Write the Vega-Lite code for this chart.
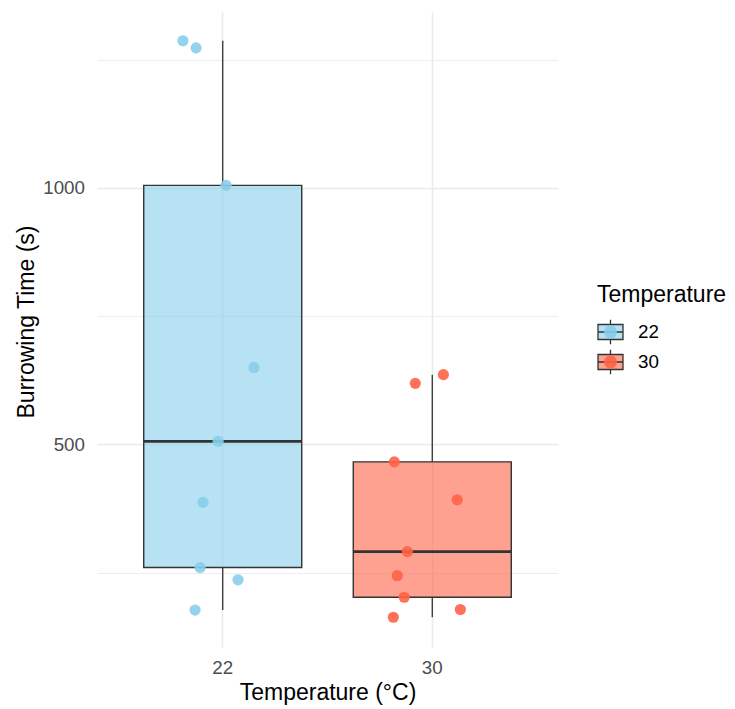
{
  "$schema": "https://vega.github.io/schema/vega-lite/v6.json",
  "autosize": {"type": "none"},
  "padding": {"left": 97, "top": 12, "right": 177, "bottom": 62},
  "width": 461,
  "height": 635,
  "background": "white",
  "config": {
    "view": {"stroke": null},
    "font": "Liberation Sans",
    "axis": {"labelFont": "Liberation Sans", "titleFont": "Liberation Sans"},
    "legend": {"labelFont": "Liberation Sans", "titleFont": "Liberation Sans"},
    "tick": {"thickness": 2.8, "opacity": 1}
  },
  "data": {
    "values": [
      {"Temperature": "22", "time": 1287, "jitter": -0.19},
      {"Temperature": "22", "time": 1273, "jitter": -0.127},
      {"Temperature": "22", "time": 1005, "jitter": 0.016},
      {"Temperature": "22", "time": 650, "jitter": 0.149},
      {"Temperature": "22", "time": 506, "jitter": -0.022},
      {"Temperature": "22", "time": 387, "jitter": -0.094},
      {"Temperature": "22", "time": 260, "jitter": -0.108},
      {"Temperature": "22", "time": 236, "jitter": 0.073},
      {"Temperature": "22", "time": 177, "jitter": -0.132},
      {"Temperature": "30", "time": 619, "jitter": -0.081},
      {"Temperature": "30", "time": 636, "jitter": 0.053},
      {"Temperature": "30", "time": 466, "jitter": -0.181},
      {"Temperature": "30", "time": 392, "jitter": 0.119},
      {"Temperature": "30", "time": 291, "jitter": -0.119},
      {"Temperature": "30", "time": 244, "jitter": -0.167},
      {"Temperature": "30", "time": 202, "jitter": -0.134},
      {"Temperature": "30", "time": 178, "jitter": 0.134},
      {"Temperature": "30", "time": 163, "jitter": -0.186}
    ]
  },
  "encoding": {
    "x": {
      "field": "Temperature",
      "type": "nominal",
      "scale": {"paddingInner": 0, "paddingOuter": 0.1},
      "axis": {
        "title": "Temperature (°C)",
        "labelAngle": 0,
        "labelFontSize": 18.8,
        "labelColor": "#4D4D4D",
        "labelPadding": 11,
        "titleFontSize": 23,
        "titleFontWeight": "normal",
        "titleColor": "#000000",
        "titlePadding": 4.5,
        "domain": false,
        "ticks": false,
        "grid": true,
        "bandPosition": 0.5,
        "gridColor": "#EBEBEB",
        "gridWidth": 1.6
      }
    },
    "y": {
      "field": "time",
      "type": "quantitative",
      "scale": {"domain": [105, 1343], "nice": false, "zero": false},
      "axis": {
        "title": "Burrowing Time (s)",
        "values": [250, 500, 750, 1000, 1250],
        "format": "d",
        "labelExpr": "datum.value % 500 === 0 ? datum.label : ''",
        "labelFontSize": 18.8,
        "labelColor": "#4D4D4D",
        "labelPadding": 12.5,
        "titleFontSize": 23,
        "titleFontWeight": "normal",
        "titleColor": "#000000",
        "titlePadding": 4,
        "titleY": 309.5,
        "domain": false,
        "ticks": false,
        "grid": true,
        "gridColor": "#EBEBEB",
        "gridWidth": {"condition": {"test": "datum.value % 500 === 0", "value": 1.6}, "value": 0.9}
      }
    }
  },
  "layer": [
    {
      "mark": {
        "type": "boxplot",
        "extent": 1.5,
        "size": 158,
        "outliers": false,
        "box": {"stroke": "#333333", "strokeWidth": 1.4, "fillOpacity": 0.6},
        "median": {"color": "#333333", "thickness": 2.8, "opacity": 1},
        "rule": {"color": "#333333", "strokeWidth": 1.3, "opacity": 1}
      },
      "encoding": {
        "color": {
          "field": "Temperature",
          "type": "nominal",
          "scale": {"domain": ["22", "30"], "range": ["#87CEEB", "#FF6347"]},
          "legend": {
            "title": "Temperature",
            "orient": "none",
            "direction": "vertical",
            "legendX": 500,
            "legendY": 272,
            "padding": 0,
            "titleFontSize": 23,
            "titleFontWeight": "normal",
            "titleColor": "#000000",
            "titlePadding": 12.5,
            "labelFontSize": 18.8,
            "labelColor": "#000000",
            "labelOffset": 14,
            "rowPadding": 5,
            "clipHeight": 25,
            "symbolSize": 625,
            "symbolStrokeWidth": 1.3,
            "symbolStrokeColor": "#333333",
            "symbolType": "M-1,-0.6H1V0.6H-1Z M-1,0H1 M0,-0.6V-1 M0,0.6V1",
            "encoding": {
              "symbols": {
                "fillOpacity": {"value": 0.6},
                "strokeOpacity": {"value": 1},
                "opacity": {"value": 1}
              }
            }
          }
        }
      }
    },
    {
      "mark": {"type": "circle", "size": 125, "opacity": 0.9},
      "encoding": {
        "xOffset": {
          "field": "jitter",
          "type": "quantitative",
          "scale": {"domain": [-0.5, 0.5]}
        },
        "fill": {
          "field": "Temperature",
          "type": "nominal",
          "scale": {"range": ["#87CEEB", "#FF6347"]},
          "legend": {
            "title": null,
            "orient": "none",
            "direction": "vertical",
            "legendX": 500,
            "legendY": 307.5,
            "padding": 0,
            "labelFontSize": 0.1,
            "labelColor": "transparent",
            "labelOffset": 14,
            "rowPadding": 5,
            "clipHeight": 25,
            "symbolSize": 625,
            "symbolStrokeWidth": 1.3,
            "symbolStrokeColor": "transparent",
            "symbolOpacity": 0.9,
            "symbolType": "M-0.52,0A0.52,0.52,0,1,0,0.52,0A0.52,0.52,0,1,0,-0.52,0Z"
          }
        }
      }
    }
  ]
}
